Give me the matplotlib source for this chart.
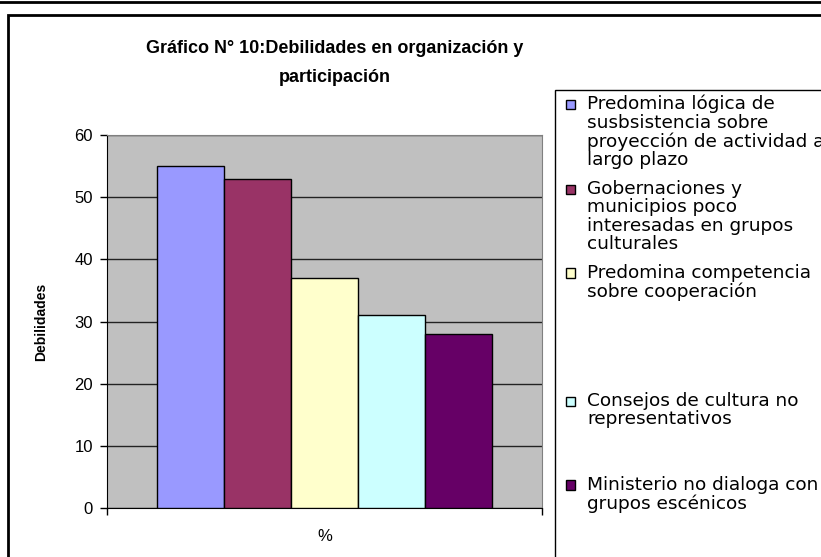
import numpy as np
import matplotlib.pyplot as plt
from matplotlib.patches import Rectangle

series = [
    "Predomina lógica de\nsusbsistencia sobre\nproyección de actividad a\nlargo plazo",
    "Gobernaciones y\nmunicipios poco\ninteresadas en grupos\nculturales",
    "Predomina competencia\nsobre cooperación",
    "Consejos de cultura no\nrepresentativos",
    "Ministerio no dialoga con\ngrupos escénicos",
]
values = [55, 53, 37, 31, 28]
colors = ["#9999FF", "#993366", "#FFFFCC", "#CCFFFF", "#660066"]
yticks = [0, 10, 20, 30, 40, 50, 60]

W, H = 821, 557
fig = plt.figure(figsize=(W / 100, H / 100), dpi=100)

def fx(px):
    return px / W

def fy(py):
    return 1 - py / H

# outer frames
fig.add_artist(plt.Line2D([0, 1], [fy(2), fy(2)], color="black", lw=2))
fig.add_artist(Rectangle((fx(8), fy(600)), fx(900), fy(15) - fy(600),
                         fill=False, ec="black", lw=2, transform=fig.transFigure))

ax = fig.add_axes([fx(107), fy(508), fx(542) - fx(107), fy(135) - fy(508)])
ax.set_facecolor("#C0C0C0")

n = len(values)
w = 0.77 / n
offsets = (np.arange(n) - (n - 1) / 2) * w
for off, v, c, lab in zip(offsets, values, colors, series):
    ax.bar(off, v, width=w, color=c, edgecolor="black", linewidth=1, zorder=3, label=lab)

ax.set_xlim(-0.5, 0.5)
ax.set_ylim(0, 60)
ax.set_yticks(yticks)
ax.yaxis.grid(True, color="#222222", lw=1, zorder=1)
ax.set_axisbelow(True)
ax.set_xticks([-0.5, 0.5])
ax.set_xticklabels(["", ""])
ax.tick_params(axis="both", direction="out", length=5, width=1, colors="black")
ax.tick_params(axis="y", labelsize=12, pad=5)
for lbl in ax.get_yticklabels():
    lbl.set_family("Liberation Sans")
ax.spines["top"].set_color("#808080")
ax.spines["right"].set_color("#808080")

ax.set_ylabel("Debilidades", fontsize=10, fontweight="bold", family="Liberation Sans")
ax.yaxis.set_label_coords(-0.135, 0.5)
ax.set_xlabel("%", fontsize=12, family="Liberation Sans")
ax.xaxis.set_label_coords(0.5, -0.055)

fig.text(fx(335), fy(63), "Gráfico N° 10:Debilidades en organización y\nparticipación",
         ha="center", va="center", fontsize=13, fontweight="bold",
         family="Liberation Sans", linespacing=1.9)

# legend
fig.add_artist(Rectangle((fx(555), fy(600)), fx(400), fy(90) - fy(600),
                         fill=False, ec="black", lw=1, transform=fig.transFigure))
first_lines = [104, 189, 273, 401, 485]
for y0, c, lab in zip(first_lines, colors, series):
    fig.add_artist(Rectangle((fx(566), fy(y0 + 4.5)), fx(9), fy(y0 - 4.5) - fy(y0 + 4.5),
                             fc=c, ec="black", lw=1, transform=fig.transFigure))
    fig.text(fx(587), fy(y0 - 9.5), lab, ha="left", va="top", fontsize=13.3,
             family="DejaVu Sans", linespacing=1.04)

fig.savefig("out.png", dpi=100)
